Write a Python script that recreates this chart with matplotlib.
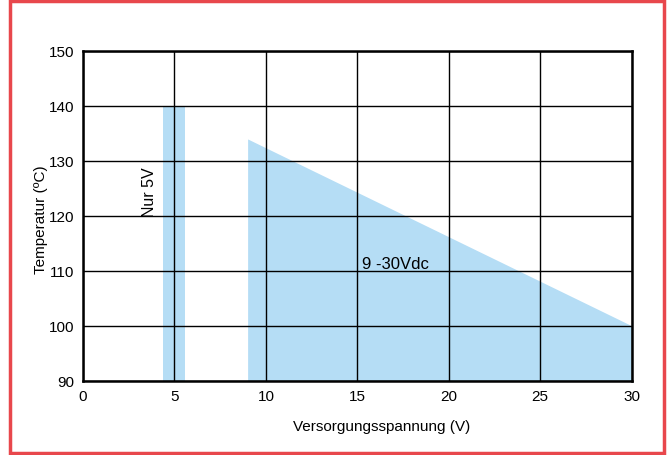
import matplotlib
matplotlib.use("Agg")
import matplotlib.pyplot as plt
from matplotlib.patches import Rectangle

plt.rcParams['font.family'] = ['Liberation Sans', 'DejaVu Sans']

# Operating ranges: supply voltage (V) vs. maximum temperature (°C)
only5v_x = [4.4, 5.6]
only5v_top = 140
wide_x = [9, 30]
wide_top = [134, 100]
y_floor = 90

x_ticks = [0, 5, 10, 15, 20, 25, 30]
y_ticks = [90, 100, 110, 120, 130, 140, 150]

fill_color = '#b5ddf5'

fig = plt.figure(figsize=(6.7, 4.56), dpi=100)
ax = fig.add_axes([83/670, 1 - 381.7/456, (631.7 - 83)/670, (381.7 - 52)/456])

ax.fill_between(only5v_x, [y_floor, y_floor], [only5v_top, only5v_top],
                color=fill_color, lw=0, zorder=1)
ax.fill_between(wide_x, [y_floor, y_floor], wide_top,
                color=fill_color, lw=0, zorder=1)

ax.set_xlim(x_ticks[0], x_ticks[-1])
ax.set_ylim(y_ticks[0], y_ticks[-1])
ax.set_xticks(x_ticks)
ax.set_yticks(y_ticks)
ax.grid(True, color='black', lw=1.0, zorder=2)
ax.set_axisbelow(False)
ax.tick_params(length=0, labelsize=11, pad=6)
for s in ax.spines.values():
    s.set_linewidth(1.8)
    s.set_zorder(3)

ax.set_xlabel('Versorgungsspannung (V)', fontsize=11)
ax.xaxis.set_label_coords(0.545, -0.115)
ax.set_ylabel('Temperatur (ºC)', fontsize=11)
ax.yaxis.set_label_coords(-0.064, 0.49)

ax.text(3.62, 124.4, 'Nur 5V', rotation=90, ha='center', va='center', fontsize=11.5, zorder=4)
ax.text(17.1, 111.3, '9 -30Vdc', ha='center', va='center', fontsize=12, zorder=4)

# red frame around the whole figure
fig.patches.append(Rectangle((9.5/670, 1 - 454/456), (664 - 9.5)/670, (454 - 1.5)/456,
                             transform=fig.transFigure, fill=False,
                             edgecolor='#e8474c', lw=2.5))

fig.savefig('out.png', dpi=100)
